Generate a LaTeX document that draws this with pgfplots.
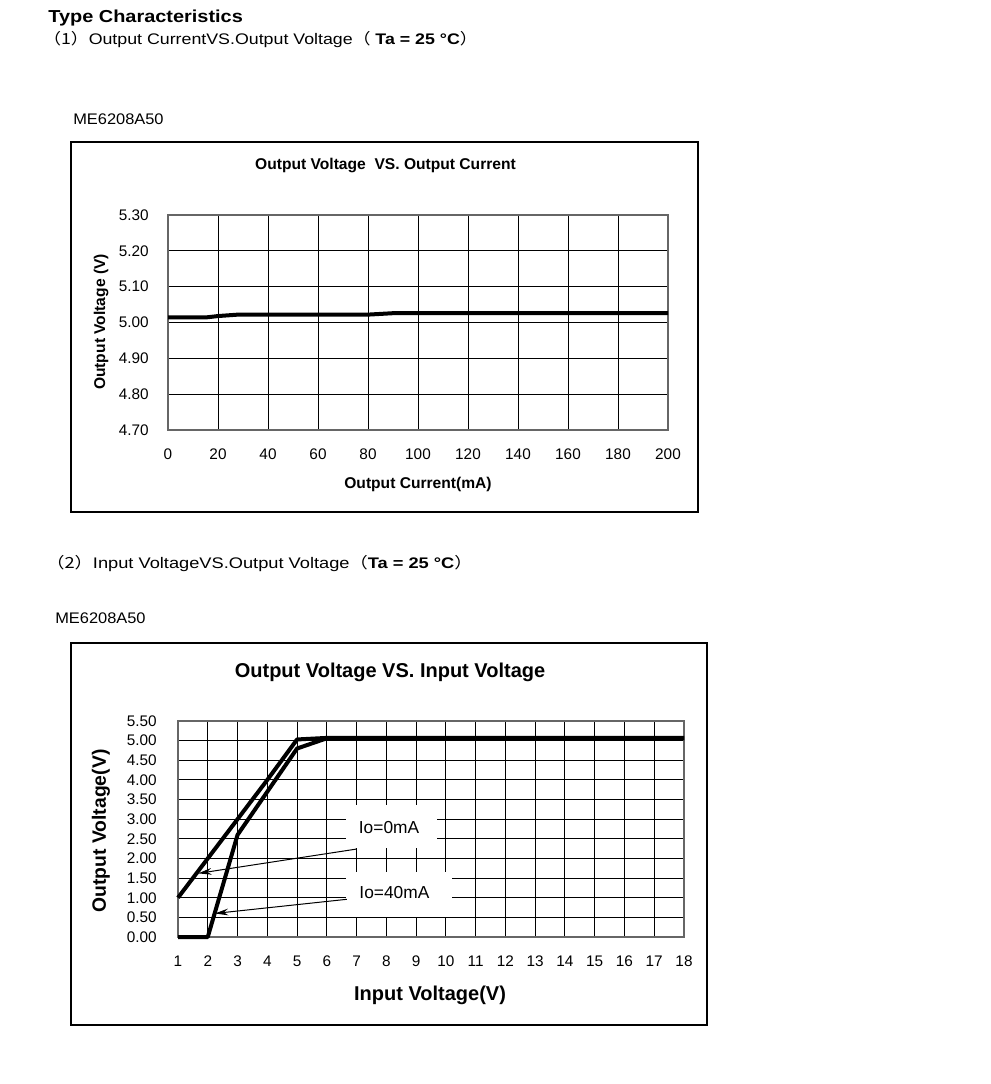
\documentclass[border=0pt]{standalone}
\usepackage{fontspec}
\setmainfont{Liberation Sans}
\newfontfamily\cjk{Noto Sans CJK SC}
\usepackage{pgfplots}
\pgfplotsset{compat=1.18}
\usetikzlibrary{arrows.meta}
\begin{document}
\begin{tikzpicture}[x=0.75pt,y=-0.75pt]
\path (0,0) rectangle (991,1084);
% page text
\node[anchor=base west,inner sep=0pt,xscale=1.15,font=\bfseries\fontsize{13}{15}\selectfont] at (48,22.7) {Type Characteristics};
\node[anchor=base west,inner sep=0pt,xscale=1.16,font=\fontsize{11.5}{14}\selectfont] at (43,44.3) {{\cjk （1）}Output CurrentVS.Output Voltage{\cjk （} \textbf{Ta = 25 °C}{\cjk ）}};
\node[anchor=base west,inner sep=0pt,xscale=1.07,font=\fontsize{11.5}{14}\selectfont] at (73,125) {ME6208A50};
\node[anchor=base west,inner sep=0pt,xscale=1.19,font=\fontsize{11.5}{14}\selectfont] at (46,568) {{\cjk （2）}Input VoltageVS.Output Voltage{\cjk （}\textbf{Ta = 25 °C}{\cjk ）}};
\node[anchor=base west,inner sep=0pt,xscale=1.07,font=\fontsize{11.5}{14}\selectfont] at (55,623) {ME6208A50};
% frames
\draw[line width=1.1pt] (71,142) rectangle (698,512);
\draw[line width=1.1pt] (71,643) rectangle (707,1025);
% chart 1 texts
\node[anchor=base,inner sep=0pt,font=\bfseries\fontsize{11.7}{13}\selectfont] at (385.5,170) {Output Voltage\ \ VS. Output Current};
\node[anchor=base,inner sep=0pt,font=\bfseries\fontsize{11.7}{13}\selectfont] at (418,488) {Output Current(mA)};
\node[rotate=90,inner sep=0pt,font=\bfseries\fontsize{11.7}{13}\selectfont] at (101,322) {Output Voltage (V)};
% chart 2 texts
\node[anchor=base,inner sep=0pt,font=\bfseries\fontsize{15}{17}\selectfont] at (390,677) {Output Voltage VS. Input Voltage};
\node[anchor=base,inner sep=0pt,font=\bfseries\fontsize{15}{17}\selectfont] at (430,1000) {Input Voltage(V)};
\node[rotate=90,inner sep=0pt,font=\bfseries\fontsize{14.5}{17}\selectfont] at (101,831) {Output Voltage(V)};

\begin{axis}[at={(126pt,-322.5pt)}, anchor=south west, scale only axis,
  width=375pt, height=161.25pt,
  xmin=0, xmax=200, ymin=4.7, ymax=5.3,
  xtick={0,20,40,60,80,100,120,140,160,180,200},
  ytick={4.7,4.8,4.9,5.0,5.1,5.2,5.3},
  grid=major, grid style={black, line width=0.75pt},
  major tick length=0pt,
  axis line style={black!60, line width=1pt},
  /pgf/number format/assume math mode=true,
  tick label style={font=\fontsize{11.5}{13}\selectfont},
  yticklabel style={/pgf/number format/fixed, /pgf/number format/fixed zerofill, /pgf/number format/precision=2, anchor=east, inner sep=0pt, xshift=-14.25pt},
  xticklabel style={anchor=north, inner sep=0pt, yshift=-13.7pt},
  clip=false]
\addplot[black, line width=3pt, line join=round] coordinates {
 (0,5.014) (15,5.014) (20,5.018) (28,5.022) (80,5.022) (90,5.026) (200,5.026)};
\end{axis}

\begin{axis}[at={(133.5pt,-702.75pt)}, anchor=south west, scale only axis,
  width=379.5pt, height=162pt,
  xmin=1, xmax=18, ymin=0, ymax=5.5,
  xtick={1,2,...,18},
  ytick={0,0.5,1,1.5,2,2.5,3,3.5,4,4.5,5,5.5},
  grid=major, grid style={black, line width=0.75pt},
  major tick length=0pt,
  axis line style={black!60, line width=1pt},
  /pgf/number format/assume math mode=true,
  tick label style={font=\fontsize{11.5}{13}\selectfont},
  yticklabel style={/pgf/number format/fixed, /pgf/number format/fixed zerofill, /pgf/number format/precision=2, anchor=east, inner sep=0pt, xshift=-15.75pt},
  xticklabel style={anchor=north, inner sep=0pt, yshift=-14.25pt},
  clip=false]
\fill[white] (axis cs:6.66,3.36) rectangle (axis cs:9.69,2.27);
\fill[white] (axis cs:6.66,1.655) rectangle (axis cs:10.19,0.51);
\node[font=\fontsize{13}{15}\selectfont] at (axis cs:8.09,2.78) {Io=0mA};
\node[font=\fontsize{13}{15}\selectfont] at (axis cs:8.27,1.12) {Io=40mA};
\draw[-{Stealth[length=10pt,width=5pt]}, line width=0.75pt] (axis cs:7.0,2.24) -- (axis cs:1.68,1.62);
\draw[-{Stealth[length=10pt,width=5pt]}, line width=0.75pt] (axis cs:6.67,0.96) -- (axis cs:2.24,0.60);
\addplot[black, line width=3pt, line join=round] coordinates {
 (1,1.0) (2,2.0) (3,3.0) (4,4.0) (5,5.03) (6,5.07) (18,5.07)};
\addplot[black, line width=3pt, line join=round] coordinates {
 (1,0) (2,0) (3,2.6) (5,4.80) (6,5.06) (18,5.06)};
\end{axis}
\end{tikzpicture}
\end{document}
